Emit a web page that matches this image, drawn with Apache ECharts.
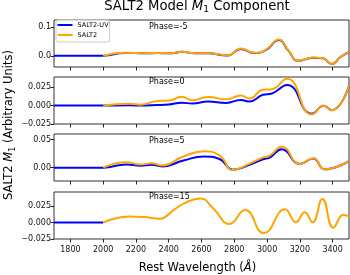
<!DOCTYPE html>
<html><head><meta charset="utf-8">
<script src="https://cdn.jsdelivr.net/npm/echarts@6/dist/echarts.min.js"></script>
<style>html,body{margin:0;padding:0;background:#fff}#c{width:350px;height:275px}</style>
</head><body><div id="c"></div>
<script>
const FONT = 'DejaVu Sans';
const xTicks = [1800, 2000, 2200, 2400, 2600, 2800, 3000, 3200, 3400];
const xTickLabels = ['1800', '2000', '2200', '2400', '2600', '2800', '3000', '3200', '3400'];
const uvLeadWave = [1700, 1850];
const uvLeadVal = [0, 0];

// Phase = -5
const waveM5 = [2000,2130,2260,2330,2420,2480,2560,2640,2760,2840,2920,2990,3072,3130,3190,3280,3340,3395,3450,3500];
const salt2M5 = [0,0.0105,0.0092,0.0102,0.0092,0.0145,0.0090,0.0092,0.0015,0.0250,0.0105,0.0200,0.0565,0.0190,-0.0170,-0.0060,-0.0085,-0.0280,-0.0030,0.0135];
const uvM5 = [0,0.0100,0.0088,0.0097,0.0088,0.0138,0.0086,0.0088,0.0012,0.0240,0.0100,0.0190,0.0550,0.0180,-0.0172,-0.0062,-0.0087,-0.0282,-0.0032,0.0133];

// Phase = 0
const wave0 = [2000,2160,2230,2330,2400,2480,2545,2640,2750,2840,2892,2975,3030,3122,3274,3345,3395,3500];
const salt2_0 = [0,0.0025,0.0013,0.0062,0.0068,0.0120,0.0073,0.0118,0.0085,0.0138,0.0095,0.0215,0.0222,0.0365,-0.0120,-0.0003,-0.0065,0.0265];
const uv0 = [0,0.0003,0.0002,0.0008,0.0015,0.0040,0.0027,0.0055,0.0036,0.0077,0.0055,0.0146,0.0164,0.0280,-0.0112,-0.0003,-0.0062,0.0265];

// Phase = 5
const wave5 = [2000,2140,2230,2295,2360,2490,2615,2710,2792,2900,2980,3010,3090,3200,3282,3352,3500];
const salt2_5 = [0,0.0098,0.0055,0.0080,0.0040,0.0200,0.0290,0.0220,-0.0040,0.0080,0.0188,0.0205,0.0372,0.0067,0.0166,-0.0030,0.0115];
const uv5 = [0,0.0058,0.0035,0.0050,0.0023,0.0127,0.0200,0.0155,-0.0035,0.0060,0.0155,0.0170,0.0328,0.0067,0.0162,-0.0030,0.0115];

// Phase = 15 (SALT2-UV only visible below 2000 Å)
const wave15 = [2000,2160,2250,2345,2430,2500,2592,2672,2770,2866,2980,3110,3175,3230,3277,3338,3405,3466,3500];
const salt2_15 = [0,0.0090,0.0083,0.0058,0.0190,0.0300,0.0366,0.0215,-0.0022,0.0192,-0.0162,0.0202,0.0005,0.0155,0.0003,0.0358,-0.0078,0.0120,0.0088];
const wave15UV = [2000];
const uv15 = [0];

const phaseLabels = ['Phase=-5', 'Phase=0', 'Phase=5', 'Phase=15'];
const yTicks = [[0, 0.1], [-0.025, 0, 0.025], [0, 0.05], [-0.025, 0, 0.025]];
const yTickLabels = [['0.0', '0.1'], ['\u22120.025', '0.000', '0.025'], ['0.00', '0.05'], ['\u22120.025', '0.000', '0.025']];
const yMin = [-0.0386, -0.025, -0.0237, -0.025];
const yMax = [0.124, 0.0388, 0.0599, 0.0464];

const panels = [
  {w: waveM5, s: salt2M5, wu: waveM5, u: uvM5},
  {w: wave0, s: salt2_0, wu: wave0, u: uv0},
  {w: wave5, s: salt2_5, wu: wave5, u: uv5},
  {w: wave15, s: salt2_15, wu: wave15UV, u: uv15}
];

const gridTops = [20, 77, 134, 192];
const phaseY = [26.5, 81.5, 140.7, 197];

const pairs = (w, v) => w.map((x, i) => [x, v[i]]);

const grids = [], xAxes = [], yAxes = [], series = [], graphics = [];
panels.forEach((p, i) => {
  grids.push({left: 54, width: 295, top: gridTops[i], height: 47, show: true,
    borderColor: '#333', borderWidth: 1, backgroundColor: 'transparent', outerBoundsMode: 'none', containLabel: false});
  xAxes.push({type: 'value', gridIndex: i, min: 1700, max: 3500,
    splitLine: {show: false}, axisLine: {show: false, onZero: false},
    axisTick: {show: true, customValues: xTicks, length: 3.5, inside: false, lineStyle: {color: '#222', width: 1}},
    axisLabel: {show: i === 3, customValues: xTicks, margin: 7, fontSize: 8, color: '#111', fontFamily: FONT,
      formatter: v => { const k = xTicks.findIndex(t => Math.abs(t - v) < 1e-6); return k >= 0 ? xTickLabels[k] : ''; }}});
  const ticks = yTicks[i], labs = yTickLabels[i];
  yAxes.push({type: 'value', gridIndex: i, min: yMin[i], max: yMax[i],
    splitLine: {show: false}, axisLine: {show: false, onZero: false},
    axisTick: {show: true, customValues: ticks, length: 3.5, inside: false, lineStyle: {color: '#222', width: 1}},
    axisLabel: {customValues: ticks, margin: 3, fontSize: 8, color: '#111', fontFamily: FONT,
      formatter: v => { const k = ticks.findIndex(t => Math.abs(t - v) < 1e-9); return k >= 0 ? labs[k] : ''; }}});
  series.push({name: 'SALT2-UV', type: 'line', xAxisIndex: i, yAxisIndex: i,
    data: pairs(uvLeadWave, uvLeadVal).concat(pairs(p.wu, p.u)),
    smooth: 0.5, symbol: 'none', showSymbol: false,
    lineStyle: {color: '#0000ff', width: 2}, itemStyle: {color: '#0000ff'}, z: 2});
  series.push({name: 'SALT2', type: 'line', xAxisIndex: i, yAxisIndex: i,
    data: pairs(p.w, p.s),
    smooth: 0.5, symbol: 'none', showSymbol: false,
    lineStyle: {color: '#ffa500', width: 2}, itemStyle: {color: '#ffa500'}, z: 3});
  graphics.push({type: 'text', x: 149, y: phaseY[i], z: 100,
    style: {text: phaseLabels[i], fontSize: 8, fontFamily: FONT, fill: '#000', align: 'left', verticalAlign: 'middle'}});
});

graphics.push({type: 'text', x: 197, y: 6.5, z: 100,
  style: {text: '{a|SALT2 Model }{i|M}{s|1}{a| Component}', align: 'center', verticalAlign: 'middle',
    fontSize: 13.2, fontFamily: FONT, fill: '#000',
    rich: {a: {fontSize: 13.2, fontFamily: FONT, fill: '#000', lineHeight: 16},
           i: {fontSize: 13.2, fontFamily: FONT, fontStyle: 'italic', fill: '#000', lineHeight: 16},
           s: {fontSize: 9.2, fontFamily: FONT, fill: '#000', verticalAlign: 'bottom', lineHeight: 7}}}});
graphics.push({type: 'text', x: 9.5, y: 125, rotation: Math.PI / 2, z: 100,
  style: {text: '{a|SALT2 }{i|M}{s|1}{a| (Arbitrary Units)}', align: 'center', verticalAlign: 'middle',
    fontSize: 11.5, fontFamily: FONT, fill: '#000',
    rich: {a: {fontSize: 11.5, fontFamily: FONT, fill: '#000', lineHeight: 14},
           i: {fontSize: 11.5, fontFamily: FONT, fontStyle: 'italic', fill: '#000', lineHeight: 14},
           s: {fontSize: 8, fontFamily: FONT, fill: '#000', verticalAlign: 'bottom', lineHeight: 6}}}});
graphics.push({type: 'text', x: 197.5, y: 268, z: 100,
  style: {text: '{a|Rest Wavelength (}{i|Å}{a|)}', align: 'center', verticalAlign: 'middle',
    fontSize: 11.5, fontFamily: FONT, fill: '#000',
    rich: {a: {fontSize: 11.5, fontFamily: FONT, fill: '#000'},
           i: {fontSize: 11.5, fontFamily: FONT, fontStyle: 'italic', fill: '#000'}}}});

const chart = echarts.init(document.getElementById('c'), null, {renderer: 'canvas'});
chart.setOption({
  animation: false,
  backgroundColor: '#fff',
  grid: grids, xAxis: xAxes, yAxis: yAxes, series: series,
  legend: {data: ['SALT2-UV', 'SALT2'], left: 56, top: 20, orient: 'vertical', icon: 'rect',
    itemWidth: 15, itemHeight: 2, itemGap: 2, padding: [1, 1, 3, 1.5],
    backgroundColor: 'rgba(255,255,255,0.8)', borderColor: '#ccc', borderWidth: 1, borderRadius: 2,
    textStyle: {fontSize: 6.5, lineHeight: 8, fontFamily: FONT, color: '#000'}},
  graphic: graphics
});
</script></body></html>
